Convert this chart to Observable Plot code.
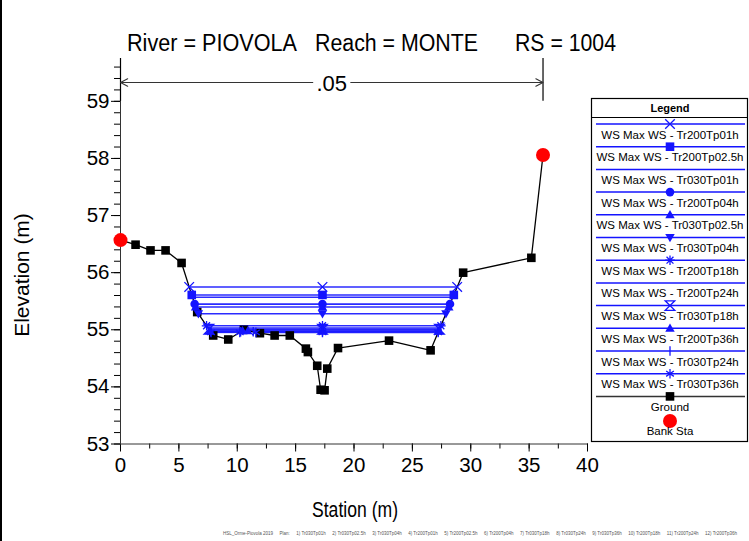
<!DOCTYPE html>
<html><head><meta charset="utf-8">
<script src="https://cdn.jsdelivr.net/npm/d3@7"></script>
<script src="https://cdn.jsdelivr.net/npm/@observablehq/plot@0.6"></script>
<style>
html,body{margin:0;padding:0;background:#fff;}
#chart{width:749px;height:541px;overflow:hidden;position:relative;}
</style></head><body><div id="chart"></div>
<script>
// ---------- data ----------
const groundStation = [0, 1.29, 2.57, 3.86, 5.23, 6.57, 7.94, 9.23, 10.57, 11.94, 13.2, 14.5, 15.88, 16.05, 16.85, 17.14, 17.48, 17.71, 18.63, 23.0, 26.56, 29.35, 35.19, 36.19];
const groundElev    = [56.57, 56.49, 56.39, 56.39, 56.17, 55.31, 54.90, 54.83, 55.00, 54.94, 54.90, 54.90, 54.67, 54.61, 54.37, 53.95, 53.94, 54.32, 54.68, 54.81, 54.64, 56.00, 56.26, 58.06];
const bankStations  = [0, 36.19];
const profileNames  = ["Tr200Tp01h","Tr200Tp02.5h","Tr030Tp01h","Tr200Tp04h","Tr030Tp02.5h","Tr030Tp04h","Tr200Tp18h","Tr200Tp24h","Tr030Tp18h","Tr200Tp36h","Tr030Tp24h","Tr030Tp36h"];
const wsElev        = [55.75, 55.61, 55.57, 55.45, 55.40, 55.28, 55.07, 55.03, 55.01, 54.985, 54.965, 54.955];
const profileSymbols = ["times","square",null,"circle","triangleUp","triangleDown","asterisk",null,"hourglass","triangleUp","vbar","star6"];
const markerStation = 17.3;
const manningN = ".05";
const xTicks = [0,5,10,15,20,25,30,35,40];
const yTicks = [53,54,55,56,57,58,59];
const titleParts = ["River = PIOVOLA", "Reach = MONTE", "RS = 1004"];
const captionParts = ["HSL_Orme-Piovola 2019", "Plan:", "1) Tr030Tp01h", "2) Tr030Tp02.5h", "3) Tr030Tp04h", "4) Tr200Tp01h", "5) Tr200Tp02.5h", "6) Tr200Tp04h", "7) Tr030Tp18h", "8) Tr030Tp24h", "9) Tr030Tp36h", "10) Tr200Tp18h", "11) Tr200Tp24h", "12) Tr200Tp36h"];

const FONT = "'Liberation Sans', Arial, Helvetica, sans-serif";
const BLUE = "#1414ff";

// ---------- symbols ----------
const R = size => Math.sqrt(size / Math.PI);
const sym = {
  times: {draw(c, s){const r=R(s); c.moveTo(-r,-r); c.lineTo(r,r); c.moveTo(-r,r); c.lineTo(r,-r);}},
  square: {draw(c, s){const r=R(s); c.rect(-r,-r,2*r,2*r);}},
  circle: {draw(c, s){const r=R(s); c.moveTo(r,0); c.arc(0,0,r,0,2*Math.PI);}},
  triangleUp: {draw(c, s){const r=R(s)*1.1; c.moveTo(0,-r); c.lineTo(r,r*0.75); c.lineTo(-r,r*0.75); c.closePath();}},
  triangleDown: {draw(c, s){const r=R(s)*1.1; c.moveTo(0,r); c.lineTo(r,-r*0.75); c.lineTo(-r,-r*0.75); c.closePath();}},
  asterisk: {draw(c, s){const r=R(s), d=r*0.72; c.moveTo(0,-r); c.lineTo(0,r); c.moveTo(-r,0); c.lineTo(r,0); c.moveTo(-d,-d); c.lineTo(d,d); c.moveTo(-d,d); c.lineTo(d,-d);}},
  hourglass: {draw(c, s){const r=R(s); c.moveTo(-r,-r); c.lineTo(r,-r); c.lineTo(-r,r); c.lineTo(r,r); c.closePath();}},
  vbar: {draw(c, s){const r=R(s); c.moveTo(0,-r); c.lineTo(0,r);}},
  star6: {draw(c, s){const r=R(s), d=r*0.8; c.moveTo(0,-r); c.lineTo(0,r); c.moveTo(-d,-d*0.7); c.lineTo(d,d*0.7); c.moveTo(-d,d*0.7); c.lineTo(d,-d*0.7);}}
};
const filledSym = {square:true, circle:true, triangleUp:true, triangleDown:true};

// ---------- derived tables ----------
const ground = groundStation.map((s,i)=>({s, e: groundElev[i]}));
const banks = bankStations.map(s=>({s, e: groundElev[groundStation.indexOf(s)]}));

function wetSegments(z){
  const segs=[]; let wet = ground[0].e < z, start = ground[0].s;
  for(let i=0;i<ground.length-1;i++){
    const a=ground[i], b=ground[i+1];
    if((a.e-z)*(b.e-z) < 0){
      const s = a.s + (z-a.e)/(b.e-a.e)*(b.s-a.s);
      if(!wet){start=s; wet=true;} else {segs.push([start,s]); wet=false;}
    }
  }
  return segs;
}
const wsSegs = [], wsMarkers = profileNames.map(()=>[]);
profileNames.forEach((name,k)=>{
  const z = wsElev[k];
  const segs = wetSegments(z);
  segs.forEach(([a,b])=>{
    wsSegs.push({name, x1:a, x2:b, y:z});
    wsMarkers[k].push({s:a, e:z}, {s:b, e:z});
  });
  wsMarkers[k].push({s: markerStation, e: z});
});

const markerMarks = profileSymbols.map((sy,k)=>{
  if(!sy) return null;
  const f = filledSym[sy];
  return Plot.dot(wsMarkers[k], {x:"s", y:"e", symbol: sym[sy], r: f ? 4.3 : 4.8,
    fill: f ? BLUE : "none", stroke: f ? "none" : BLUE, strokeWidth: 1.3});
}).filter(Boolean);

const mid = (bankStations[0]+bankStations[1])/2;

const chart = Plot.plot({
  width: 749, height: 541,
  marginLeft: 120, marginRight: 162, marginTop: 58, marginBottom: 97.5,
  x: {domain: [0, 40]},
  y: {domain: [53, 59.75]},
  style: {fontFamily: FONT, fontSize: "20.5px", color: "black", background: "white", overflow: "visible"},
  marks: [
    Plot.axisY(d3.range(53, 59.75, 0.2), {tickSize: 6, tickFormat: () => "", label: null}),
    Plot.axisY(yTicks, {tickSize: 9, tickPadding: 2, tickFormat: d3.format("d"), label: null}),
    Plot.axisX(d3.range(0, 40.01, 2.5), {tickSize: 5, tickFormat: () => "", label: null}),
    Plot.axisX(xTicks, {tickSize: 8, tickPadding: 5, tickFormat: d3.format("d"), label: null}),
    Plot.ruleX([0], {stroke: "#333"}),
    Plot.ruleY([53], {stroke: "#333"}),
    // Manning's n bracket
    Plot.ruleX(bankStations, {y1: 59.0, y2: 59.75, stroke: "black", strokeWidth: 1.2}),
    Plot.arrow(bankStations, {x1: mid, x2: d=>d, y1: 59.33, y2: 59.33, insetStart: 19, headLength: 11, headAngle: 55, stroke: "#333", strokeWidth: 1.1}),
    Plot.text([manningN], {x: mid, y: 59.33, text: d=>d, fontSize: 22, dy: 1}),
    // water surfaces
    Plot.link(wsSegs, {x1:"x1", x2:"x2", y1:"y", y2:"y", stroke: BLUE, strokeWidth: 1.6, strokeOpacity: 0.9}),
    // ground
    Plot.line(ground, {x:"s", y:"e", stroke:"black", strokeWidth: 1.3}),
    Plot.dot(ground, {x:"s", y:"e", symbol: sym.square, r: 4.3, fill:"black"}),
    ...markerMarks,
    Plot.dot(banks, {x:"s", y:"e", r: 7, fill:"#ff0000"})
  ]
});
document.getElementById("chart").appendChild(chart);

// ---------- annotations & legend ----------
const svg = d3.select(chart);
svg.append("line").attr("x1",1).attr("x2",1).attr("y1",0).attr("y2",541).attr("stroke","black").attr("stroke-width",2);

const tpos = [[127,170],[315,163],[515,101]];
titleParts.forEach((t,i)=>{
  svg.append("text").attr("x",tpos[i][0]).attr("y",51).attr("text-anchor","start").attr("font-family",FONT).attr("font-size",23)
    .attr("textLength",tpos[i][1]).attr("lengthAdjust","spacingAndGlyphs").attr("fill","black").text(t);
});
svg.append("text").attr("transform","translate(29,275) rotate(-90)").attr("text-anchor","middle")
  .attr("font-family",FONT).attr("font-size",21).attr("fill","black").text("Elevation (m)");
svg.append("text").attr("x",355).attr("y",517).attr("text-anchor","middle")
  .attr("font-family",FONT).attr("font-size",22).attr("textLength",86).attr("lengthAdjust","spacingAndGlyphs").attr("fill","black").text("Station (m)");

// caption: pieces laid out between x=223 and x=737
const capG = svg.append("g").attr("font-family",FONT).attr("font-size",4.5).attr("fill","#555");
const capNodes = captionParts.map(t => capG.append("text").attr("y",535).attr("text-anchor","start").text(t));
const widths = capNodes.map(n => n.node().getComputedTextLength());
const gap = Math.max(3, (737 - 223 - d3.sum(widths)) / (captionParts.length - 1));
let cx = 223;
capNodes.forEach((n,i) => { n.attr("x", cx); cx += widths[i] + gap; });

const lg = svg.append("g").attr("font-family",FONT);
const LX=591.5, LY=98.5, LW=156, LH=343, CX=670;
lg.append("rect").attr("x",LX).attr("y",LY).attr("width",LW).attr("height",LH).attr("fill","white").attr("stroke","black").attr("stroke-width",1.2);
lg.append("text").attr("x",CX).attr("y",112).attr("text-anchor","middle").attr("font-size",11).attr("font-weight","bold").text("Legend");
lg.append("line").attr("x1",LX).attr("x2",LX+LW).attr("y1",117.5).attr("y2",117.5).attr("stroke","black");
const rowY = i => 124 + i*22.7;
profileNames.forEach((name,k)=>{
  const y = rowY(k);
  lg.append("line").attr("x1",596).attr("x2",745).attr("y1",y).attr("y2",y).attr("stroke",BLUE).attr("stroke-width",1.5);
  const sy = profileSymbols[k];
  if(sy){
    const f = filledSym[sy], r = f ? 4.3 : 4.8;
    lg.append("path").attr("transform",`translate(${CX},${y})`)
      .attr("d", d3.symbol(sym[sy], Math.PI*r*r)())
      .attr("fill", f ? BLUE : "none").attr("stroke", f ? "none" : BLUE).attr("stroke-width",1.3);
  }
  lg.append("text").attr("x",CX).attr("y",y+14.5).attr("text-anchor","middle").attr("font-size",11.5).text("WS Max WS - " + name);
});
const gy = rowY(12);
lg.append("line").attr("x1",596).attr("x2",745).attr("y1",gy).attr("y2",gy).attr("stroke","#333").attr("stroke-width",1.5);
lg.append("path").attr("transform",`translate(${CX},${gy})`).attr("d", d3.symbol(sym.square, Math.PI*4.3*4.3)()).attr("fill","black");
lg.append("text").attr("x",CX).attr("y",gy+15).attr("text-anchor","middle").attr("font-size",11.5).text("Ground");
lg.append("circle").attr("cx",CX).attr("cy",gy+24.6).attr("r",7).attr("fill","#ff0000");
lg.append("text").attr("x",CX).attr("y",gy+39).attr("text-anchor","middle").attr("font-size",11.5).text("Bank Sta");
</script></body></html>
